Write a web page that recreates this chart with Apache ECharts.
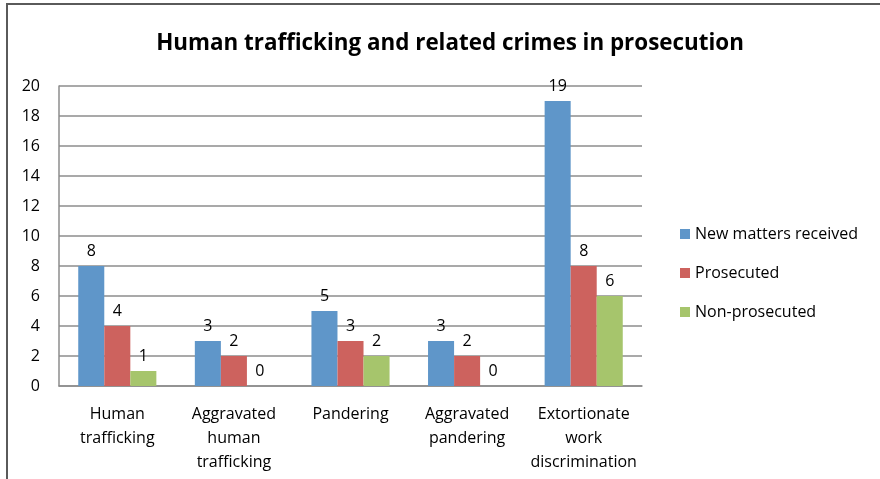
<!DOCTYPE html>
<html>
<head>
<meta charset="utf-8">
<script src="https://cdn.jsdelivr.net/npm/echarts@6/dist/echarts.min.js"></script>
<style>
  html, body { margin: 0; padding: 0; background: #fff; }
  #chart { width: 880px; height: 479px; }
</style>
</head>
<body>
<div id="chart"></div>
<script>
// Crime categories and counts per status
const categories = [
  'Human\ntrafficking',
  'Aggravated\nhuman\ntrafficking',
  'Pandering',
  'Aggravated\npandering',
  'Extortionate\nwork\ndiscrimination'
];
const newMatters = [8, 3, 5, 3, 19];
const prosecuted = [4, 2, 3, 2, 8];
const nonProsecuted = [1, 0, 2, 0, 6];
const seriesNames = ['New matters received', 'Prosecuted', 'Non-prosecuted'];
const seriesColors = ['#5f96c9', '#cd625e', '#a6c56c'];

const FONT = '"Open Sans", sans-serif';

const chart = echarts.init(document.getElementById('chart'), null, { renderer: 'canvas' });

function barSeries(name, data, color) {
  return {
    name: name,
    type: 'bar',
    data: data,
    barGap: '0%',
    barCategoryGap: '33%',
    itemStyle: { color: color },
    label: {
      show: true,
      position: 'top',
      distance: 7,
      color: '#000',
      fontFamily: FONT,
      fontSize: 16
    }
  };
}

chart.setOption({
  animation: false,
  backgroundColor: '#fff',
  title: {
    text: 'Human trafficking and related crimes in prosecution',
    left: 445,
    top: 28,
    textAlign: 'center',
    textStyle: { fontFamily: FONT, fontWeight: 'bold', fontSize: 22.4, color: '#000' }
  },
  // chart frame: only the top and left edges fall inside the canvas
  graphic: [
    {
      type: 'line',
      shape: { x1: 6, y1: 4, x2: 880, y2: 4 },
      style: { stroke: '#5a5a5a', lineWidth: 2 },
      silent: true
    },
    {
      type: 'line',
      shape: { x1: 7, y1: 3, x2: 7, y2: 479 },
      style: { stroke: '#5a5a5a', lineWidth: 2 },
      silent: true
    }
  ],
  legend: {
    orient: 'vertical',
    left: 675,
    top: 218,
    itemWidth: 10,
    itemHeight: 10,
    itemGap: 17,
    icon: 'rect',
    textStyle: { fontFamily: FONT, fontSize: 16, color: '#000', lineHeight: 22 },
    data: seriesNames
  },
  grid: { left: 59, right: 238, top: 86, bottom: 93, containLabel: false },
  xAxis: {
    type: 'category',
    data: categories,
    axisLine: { lineStyle: { color: '#8c8c8c', width: 1.5 } },
    axisTick: { show: false },
    axisLabel: {
      interval: 0,
      margin: 16,
      color: '#000',
      fontFamily: FONT,
      fontSize: 16,
      lineHeight: 24
    }
  },
  yAxis: {
    type: 'value',
    min: 0,
    max: 20,
    interval: 2,
    axisLine: { show: true, lineStyle: { color: '#8c8c8c', width: 1.5 } },
    axisTick: { show: false },
    splitLine: { lineStyle: { color: '#8c8c8c', width: 1.5 } },
    axisLabel: { margin: 19, color: '#000', fontFamily: FONT, fontSize: 16 }
  },
  series: [
    barSeries(seriesNames[0], newMatters, seriesColors[0]),
    barSeries(seriesNames[1], prosecuted, seriesColors[1]),
    barSeries(seriesNames[2], nonProsecuted, seriesColors[2])
  ]
});
</script>
</body>
</html>
